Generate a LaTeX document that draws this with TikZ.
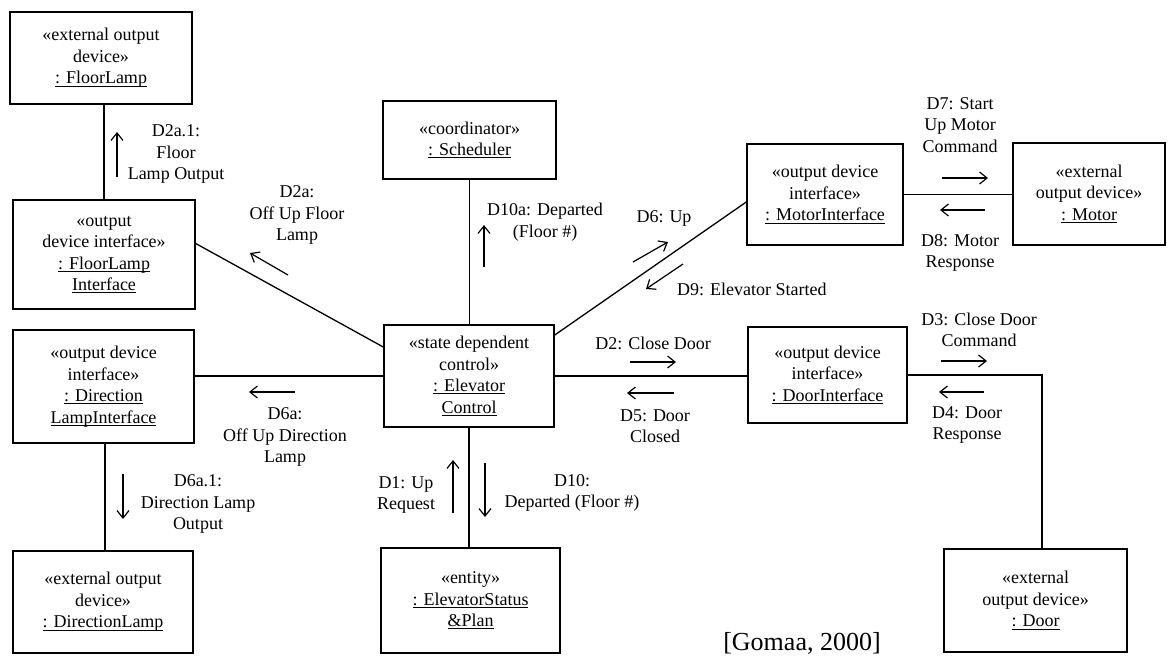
\documentclass[tikz,border=0pt]{standalone}
\usepackage{fontspec}
\setmainfont{Liberation Serif}
\usetikzlibrary{arrows.meta}
\newcommand\ulname[1]{\setbox0\hbox{#1}\rlap{\rule[-2.6pt]{\wd0}{0.9pt}}\box0}
\begin{document}
\begin{tikzpicture}[x=1pt,y=-1pt,
  font=\fontsize{18}{21.5}\selectfont,
  box/.style={draw, line width=1.5pt, inner sep=0pt, align=center},
  conn/.style={line width=1.3pt},
  msg/.style={line width=1.2pt, -{Straight Barb[length=7.5pt,width=12pt]}},
  lbl/.style={align=center, inner sep=0pt}]
\fill[white] (0,0) rectangle (1168,657);
\useasboundingbox (0,0) rectangle (1168,657);

% boxes
\node[box, minimum width=182pt, minimum height=92pt] (fl) at (101,58)
  {«external output\\device»\\\ulname{: FloorLamp}};
\node[box, minimum width=182pt, minimum height=109pt] (fli) at (104,254.5)
  {«output\\device interface»\\\ulname{: FloorLamp}\\\ulname{Interface}};
\node[box, minimum width=173pt, minimum height=78pt] (sch) at (469.5,140)
  {«coordinator»\\\ulname{: Scheduler}};
\node[box, minimum width=170pt, minimum height=102pt] (ec) at (469,376)
  {«state dependent\\control»\\\ulname{: Elevator}\\\ulname{Control}};
\node[box, minimum width=156pt, minimum height=101pt] (mi) at (825,194.5)
  {«output device\\interface»\\\ulname{: MotorInterface}};
\node[box, minimum width=152pt, minimum height=102pt] (mot) at (1089,194)
  {«external\\output device»\\\ulname{: Motor}};
\node[box, minimum width=159pt, minimum height=96pt] (di) at (827.5,375)
  {«output device\\interface»\\\ulname{: DoorInterface}};
\node[box, minimum width=183pt, minimum height=103pt] (door) at (1035.5,600.5)
  {«external\\output device»\\\ulname{: Door}};
\node[box, minimum width=181pt, minimum height=113pt] (dli) at (103.5,386.5)
  {«output device\\interface»\\\ulname{: Direction}\\\ulname{LampInterface}};
\node[box, minimum width=180pt, minimum height=102pt] (dl) at (103,602)
  {«external output\\device»\\\ulname{: DirectionLamp}};
\node[box, minimum width=179pt, minimum height=105pt] (esp) at (470.5,600.5)
  {«entity»\\\ulname{: ElevatorStatus}\\\ulname{\&Plan}};

% connectors
\draw[conn] (fli.north) -- (fli.north |- fl.south);
\draw[conn] ([yshift=11pt]fli.east) -- ([yshift=29pt]ec.west);
\draw[conn] (sch.south) -- (sch.south |- ec.north);
\draw[conn] ([yshift=41pt]ec.east) -- ([yshift=-7.5pt]mi.west);
\draw[conn] (mi.east) -- (mi.east -| mot.west);
\draw[conn] (ec.east) -- (ec.east -| di.west);
\draw[conn] (di.east) -| ([xshift=6.5pt]door.north);
\draw[conn] (ec.west) -- (ec.west -| dli.east);
\draw[conn] ([xshift=1.5pt]dli.south) -- ([xshift=1.5pt]dli.south |- dl.north);
\draw[conn] (ec.south) -- (ec.south |- esp.north);

% message arrows
\coordinate (a1s) at (117,177);  \coordinate (a1e) at (117,132);  \draw[msg] (a1s) -- (a1e);
\coordinate (a2s) at (288,275);  \coordinate (a2e) at (250,253);  \draw[msg] (a2s) -- (a2e);
\coordinate (a3s) at (484,267);  \coordinate (a3e) at (484,225);  \draw[msg] (a3s) -- (a3e);
\coordinate (a4s) at (633,262);  \coordinate (a4e) at (668,242);  \draw[msg] (a4s) -- (a4e);
\coordinate (a5s) at (683,264);  \coordinate (a5e) at (646,289);  \draw[msg] (a5s) -- (a5e);
\coordinate (a6s) at (942,178);  \coordinate (a6e) at (988,178);  \draw[msg] (a6s) -- (a6e);
\coordinate (a7s) at (985,210);  \coordinate (a7e) at (940,210);  \draw[msg] (a7s) -- (a7e);
\coordinate (a8s) at (630,362);  \coordinate (a8e) at (676,362);  \draw[msg] (a8s) -- (a8e);
\coordinate (a9s) at (674,393);  \coordinate (a9e) at (627,393);  \draw[msg] (a9s) -- (a9e);
\coordinate (b1s) at (941,361);  \coordinate (b1e) at (987,361);  \draw[msg] (b1s) -- (b1e);
\coordinate (b2s) at (984,392);  \coordinate (b2e) at (939,392);  \draw[msg] (b2s) -- (b2e);
\coordinate (b3s) at (295,392);  \coordinate (b3e) at (249,392);  \draw[msg] (b3s) -- (b3e);
\coordinate (b4s) at (123,474);  \coordinate (b4e) at (123,519);  \draw[msg] (b4s) -- (b4e);
\coordinate (b5s) at (453,513);  \coordinate (b5e) at (453,460);  \draw[msg] (b5s) -- (b5e);
\coordinate (b6s) at (485,463);  \coordinate (b6e) at (485,517);  \draw[msg] (b6s) -- (b6e);

% labels
\node[lbl] (l1) at (176,154) {D2a.1:\\Floor\\Lamp Output};
\node[lbl] (l2) at (297,215) {D2a:\\Off Up Floor\\Lamp};
\node[lbl] (l3) at (545,222) {D10a: Departed\\(Floor \#)};
\node[lbl] (l4) at (664,218) {D6: Up};
\node[lbl, anchor=west] (l5) at (677,289) {D9: Elevator Started};
\node[lbl] (l6) at (960,125) {D7: Start\\Up Motor\\Command};
\node[lbl] (l7) at (960,253) {D8: Motor\\Response};
\node[lbl] (l8) at (653,343) {D2: Close Door};
\node[lbl] (l9) at (655,426) {D5: Door\\Closed};
\node[lbl] (m1) at (979,330) {D3: Close Door\\Command};
\node[lbl] (m2) at (967,425) {D4: Door\\Response};
\node[lbl] (m3) at (285,437) {D6a:\\Off Up Direction\\Lamp};
\node[lbl] (m4) at (198,504) {D6a.1:\\Direction Lamp\\Output};
\node[lbl] (m5) at (406,495) {D1: Up\\Request};
\node[lbl] (m6) at (572,493) {D10:\\Departed (Floor \#)};
\node[inner sep=0pt, anchor=base, font=\fontsize{26}{30}\selectfont] (cite) at (802,650) {[Gomaa, 2000]};
\end{tikzpicture}
\end{document}
